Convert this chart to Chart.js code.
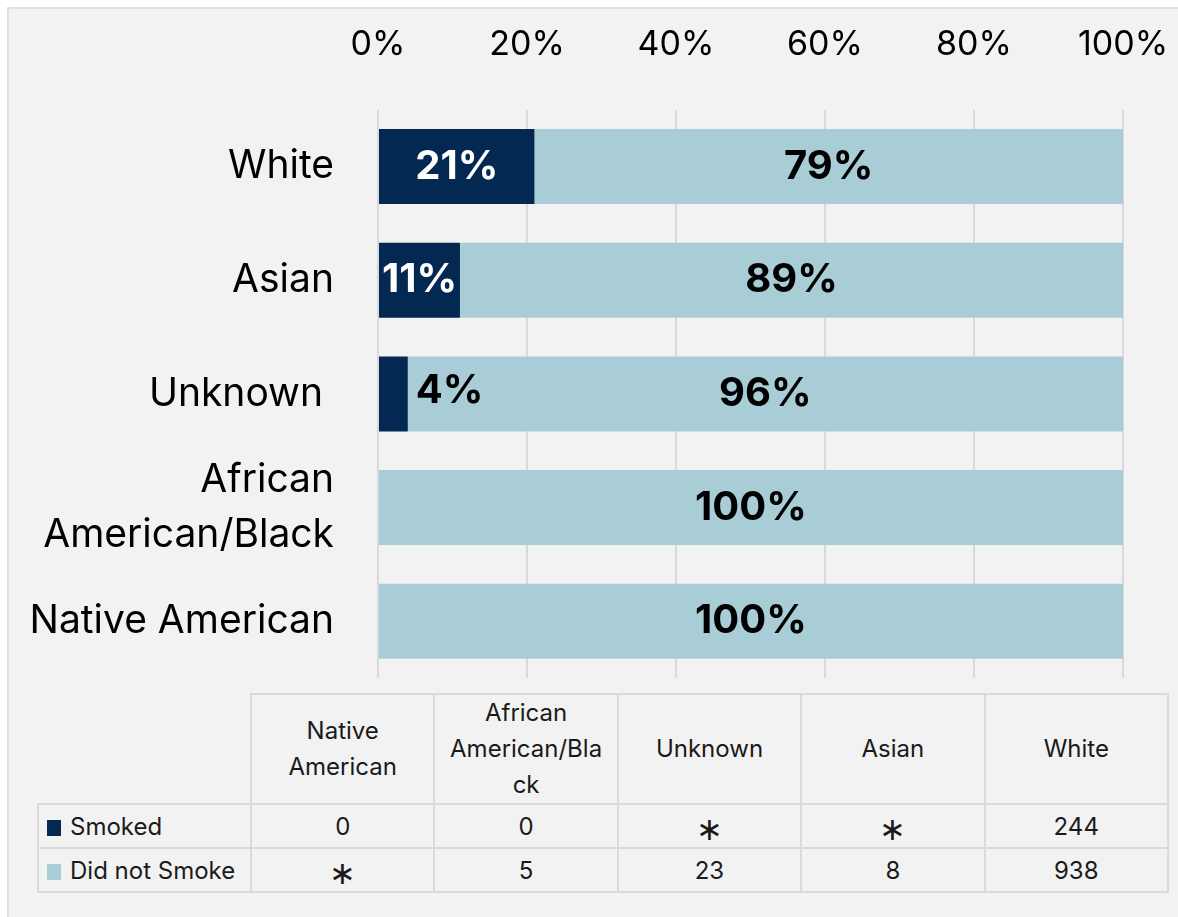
<!DOCTYPE html>
<html>
<head>
<meta charset="utf-8">
<script src="https://cdn.jsdelivr.net/npm/chart.js@4"></script>
<style>
  html, body { margin: 0; padding: 0; background: #ffffff; width: 1178px; height: 917px; overflow: hidden; }
  #panel { position: absolute; left: 7px; top: 7px; width: 1200px; height: 940px; background: #f2f2f2;
           border-left: 2px solid #e0e0e0; border-top: 2px solid #e0e0e0; }
  #wrap { position: absolute; left: 0; top: -45px; width: 1178px; height: 737px; }
  #tbl { position: absolute; left: 37px; top: 693px; border-collapse: collapse; table-layout: fixed;
         font-family: Inter, sans-serif; font-size: 24px; color: #1a1a1a; }
  #tbl td { border: 2px solid #dadada; text-align: center; padding: 0; }
  #tbl tr.head td { height: 100px; line-height: 36px; }
  #tbl tr.row td { height: 42px; }
  #tbl td.lbl { text-align: left; padding-left: 8px; white-space: nowrap; }
  #tbl td.blank { border-top: none; border-left: none; }
  .key { display: inline-block; width: 14px; height: 16px; margin-right: 9px; vertical-align: -1px; }
  .ast { font-size: 32px; line-height: 20px; position: relative; top: 5px; }
</style>
</head>
<body>
<div id="panel"></div>
<div id="wrap"><canvas id="chart"></canvas></div>
<table id="tbl"></table>
<script>
const categories = ['White', 'Asian', 'Unknown ', ['African', 'American/Black'], 'Native American'];
const smokedPct = [21, 11, 4, 0, 0];
const notSmokedPct = [79, 89, 96, 100, 100];
const xTicks = [0, 20, 40, 60, 80, 100];

const tableColumns = [['Native', 'American'], ['African', 'American/Bla', 'ck'], ['Unknown'], ['Asian'], ['White']];
const smokedCounts = ['0', '0', '*', '*', '244'];
const notSmokedCounts = ['*', '5', '23', '8', '938'];

const navy = '#032851';
const lightBlue = '#a8cdd6';

// table under the chart
const cell = v => '<td>' + (v === '*' ? '<span class="ast">&lowast;</span>' : v) + '</td>';
const tbl = document.getElementById('tbl');
let html = '<colgroup><col style="width:213px">' + tableColumns.map(() => '<col style="width:183.4px">').join('') + '</colgroup>';
html += '<tr class="head"><td class="blank"></td>' + tableColumns.map(c => '<td>' + c.join('<br>') + '</td>').join('') + '</tr>';
html += '<tr class="row"><td class="lbl"><span class="key" style="background:' + navy + '"></span>Smoked</td>' + smokedCounts.map(cell).join('') + '</tr>';
html += '<tr class="row"><td class="lbl"><span class="key" style="background:' + lightBlue + '"></span>Did not Smoke</td>' + notSmokedCounts.map(cell).join('') + '</tr>';
tbl.innerHTML = html;

// percentage labels drawn on the bars
const barLabels = {
  id: 'barLabels',
  afterDatasetsDraw(chart) {
    const ctx = chart.ctx;
    ctx.save();
    ctx.font = 'bold 40px Inter, sans-serif';
    ctx.textBaseline = 'middle';
    chart.data.datasets.forEach((ds, di) => {
      const meta = chart.getDatasetMeta(di);
      meta.data.forEach((bar, i) => {
        const v = ds.data[i];
        if (!v) return;
        const text = v + '%';
        const w = ctx.measureText(text).width;
        const left = Math.min(bar.x, bar.base);
        const right = Math.max(bar.x, bar.base);
        if (right - left < w) {
          ctx.fillStyle = '#000';
          ctx.textAlign = 'left';
          ctx.fillText(text, right + 8, bar.y - 3);
        } else {
          ctx.fillStyle = di === 0 ? '#ffffff' : '#000000';
          ctx.textAlign = 'center';
          ctx.fillText(text, (left + right) / 2, bar.y);
        }
      });
    });
    ctx.restore();
  }
};

const noPad = axis => { axis.paddingLeft = axis.paddingRight = axis.paddingTop = axis.paddingBottom = 0; };

new Chart(document.getElementById('chart'), {
  type: 'bar',
  data: {
    labels: categories,
    datasets: [
      { label: 'Smoked', data: smokedPct, backgroundColor: navy },
      { label: 'Did not Smoke', data: notSmokedPct, backgroundColor: lightBlue }
    ]
  },
  options: {
    indexAxis: 'y',
    responsive: true,
    maintainAspectRatio: false,
    animation: false,
    layout: { padding: { top: 24, right: 55, bottom: 14, left: 0 } },
    plugins: {
      legend: { display: false },
      tooltip: { enabled: false }
    },
    datasets: { bar: { barPercentage: 0.66, categoryPercentage: 1 } },
    scales: {
      x: {
        position: 'top',
        stacked: true,
        min: 0,
        max: 100,
        afterBuildTicks: axis => { axis.ticks = xTicks.map(v => ({ value: v })); },
        afterFit: noPad,
        ticks: {
          padding: 45,
          maxRotation: 0,
          color: '#000',
          font: { family: 'Inter, sans-serif', size: 34 },
          callback: v => v + '%'
        },
        grid: { color: '#d9d9d9', lineWidth: 2, drawTicks: false },
        border: { display: false }
      },
      y: {
        stacked: true,
        afterFit: axis => { noPad(axis); axis.width = 378; },
        ticks: {
          padding: 44,
          autoSkip: false,
          color: '#000',
          font: { family: 'Inter, sans-serif', size: 39, lineHeight: 1.42 }
        },
        grid: { display: false, drawTicks: false },
        border: { display: false }
      }
    }
  },
  plugins: [barLabels]
});
</script>
</body>
</html>
